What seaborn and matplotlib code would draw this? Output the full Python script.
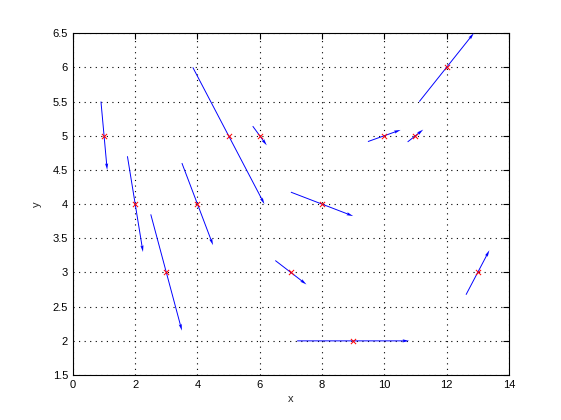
import numpy as np
import pandas as pd
import matplotlib
matplotlib.use('Agg')
import matplotlib.pyplot as plt
import seaborn as sns

# point positions
x_pts = [1, 2, 3, 4, 5, 6, 7, 8, 9, 10, 11, 12, 13]
y_pts = [5, 4, 3, 4, 5, 5, 3, 4, 2, 5, 5, 6, 3]
# vector components (arrows centred on the points)
u_vec = [0.2, 0.5, 1.0, 1.0, 2.3, 0.45, 1.0, 2.0, 3.6, 1.05, 0.5, 1.75, 0.75]
v_vec = [-1.0, -1.4, -1.7, -1.2, -2.0, -0.28, -0.35, -0.35, 0.0, 0.17, 0.18, 1.0, 0.65]

df = pd.DataFrame({'x': x_pts, 'y': y_pts, 'u': u_vec, 'v': v_vec})

sns.set_style('white')
plt.rcParams['font.family'] = ['Liberation Sans', 'DejaVu Sans']

fig = plt.figure(figsize=(5.61, 4.2), dpi=100)
ax = fig.add_axes([0.130, 0.107, 0.777, 0.814])

ax.quiver(df['x'], df['y'], df['u'], df['v'], pivot='middle', angles='xy',
          scale_units='xy', scale=1, color='blue', width=0.0022,
          headwidth=3.3, headlength=7, headaxislength=6, zorder=3)
sns.scatterplot(data=df, x='x', y='y', marker='x', color='red', s=14,
                linewidth=0.7, ax=ax, zorder=4)

ax.set_xlim(0, 14)
ax.set_ylim(1.5, 6.5)
ax.set_xticks(np.arange(0, 15, 2))
ax.set_yticks(np.arange(1.5, 6.6, 0.5))
ax.set_yticklabels(['1.5', '2', '2.5', '3', '3.5', '4', '4.5', '5', '5.5', '6', '6.5'])
ax.grid(True, color='black', linestyle=(0, (1, 4)), linewidth=0.8)
ax.tick_params(direction='in', top=True, right=True, length=4, labelsize=8, colors='black')
for s in ax.spines.values():
    s.set_color('black')
    s.set_linewidth(0.8)
ax.set_xlabel('x', fontsize=8, labelpad=3)
ax.set_ylabel('y', fontsize=8, labelpad=8)

fig.savefig('out.png', dpi=100)
